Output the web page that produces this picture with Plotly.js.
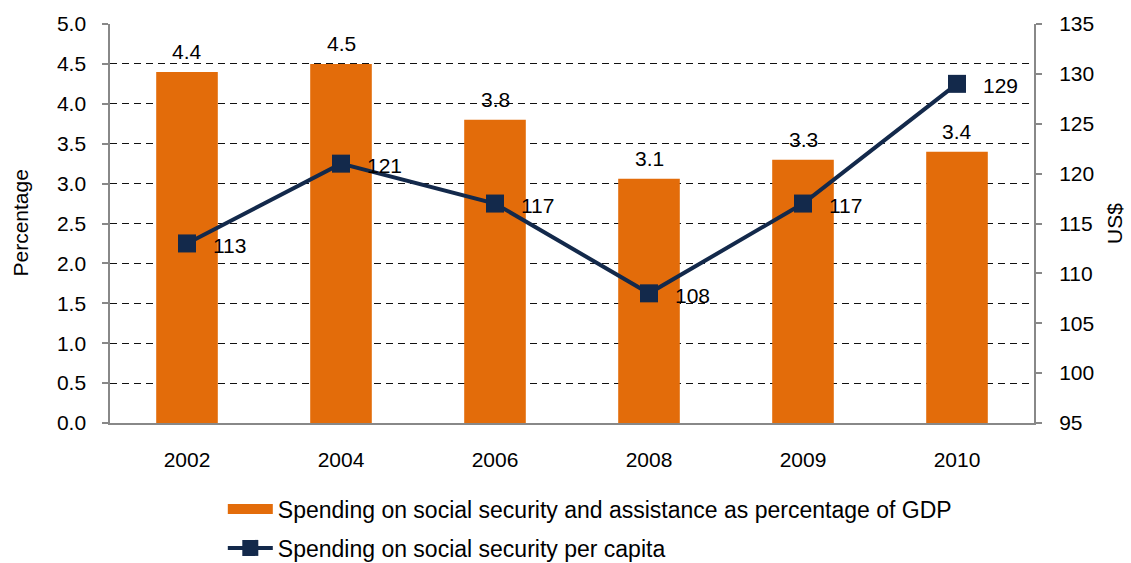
<!DOCTYPE html>
<html><head><meta charset="utf-8">
<script src="https://cdn.plot.ly/plotly-3.0.1.min.js"></script>
<style>html,body{margin:0;padding:0;background:#fff}#chart{width:1131px;height:563px}</style>
</head><body><div id="chart"></div>
<script>
const years = ['2002','2004','2006','2008','2009','2010'];
const pctGDP = [4.4, 4.5, 3.8, 3.06, 3.3, 3.4];
const perCapita = [113, 121, 117, 108, 117, 129];
const barName = 'Spending on social security and assistance as percentage of GDP';
const lineName = 'Spending on social security per capita';
const leftTitle = 'Percentage';
const rightTitle = 'US$';

const font = 'Liberation Sans, Arial, sans-serif';
const orange = '#E36C0A', navy = '#13294B';
const traces = [
  {type:'bar', x:years, y:pctGDP, name:barName, showlegend:false,
   marker:{color:orange}, width:0.4, hoverinfo:'x+y'},
  {type:'scatter', mode:'lines', x:[years[0]], y:[null], name:barName, legendgroup:'a',
   line:{color:orange, width:12}, hoverinfo:'skip'},
  {type:'scatter', mode:'lines+markers', x:years, y:perCapita, yaxis:'y2',
   name:lineName, legendgroup:'b',
   line:{color:navy, width:4}, marker:{symbol:'square', size:18, color:navy}, cliponaxis:false}
];
// category axis: annotation x given as the category's serial index
const annotations = [];
years.forEach((yr,i)=>{
  annotations.push({x:i, y:pctGDP[i], xref:'x', yref:'y', text:pctGDP[i].toFixed(1), showarrow:false,
    yanchor:'bottom', yshift:7, font:{size:21, color:'#000', family:font}});
  annotations.push({x:i, y:perCapita[i], xref:'x', yref:'y2', text:String(perCapita[i]), showarrow:false,
    xanchor:'left', xshift:24, yshift:-2, font:{size:21, color:'#000', family:font}});
});
annotations.push({xref:'paper', yref:'paper', x:-0.0974, y:0.5, text:leftTitle, textangle:-90, showarrow:false,
  xanchor:'center', yanchor:'middle', font:{size:21, color:'#000', family:font}});

const layout = {
  width:1131, height:563,
  margin:{l:110, r:97, t:24, b:140, autoexpand:false},
  paper_bgcolor:'#fff', plot_bgcolor:'#fff',
  font:{family:font, size:21, color:'#000'},
  showlegend:true,
  annotations,
  legend:{xref:'container', yref:'container', x:0.197, y:0.134, xanchor:'left', yanchor:'top', orientation:'v',
          font:{size:23}, tracegroupgap:6, itemwidth:45, bgcolor:'rgba(0,0,0,0)'},
  xaxis:{type:'category', categoryorder:'array', categoryarray:years, showgrid:false, showline:true, linecolor:'#888', linewidth:2, ticks:'',
         tickfont:{size:21}, ticklabelstandoff:17},
  yaxis:{range:[0,5], dtick:0.5, tickformat:'.1f', ticksuffix:'  ', showgrid:true, gridcolor:'#111', griddash:'7px,5px', gridwidth:1,
         showline:true, linecolor:'#888', linewidth:2, ticks:'outside', ticklen:6, tickcolor:'#888', tickwidth:2,
         zeroline:false, tickfont:{size:21}},
  yaxis2:{range:[95,135], dtick:5, overlaying:'y', side:'right', showgrid:false,
         showline:true, linecolor:'#888', linewidth:2, ticks:'outside', ticklen:6, tickcolor:'#888', tickwidth:2,
         zeroline:false, automargin:false, tickfont:{size:21}, ticklabelstandoff:13,
         title:{text:rightTitle, font:{size:21}, standoff:14}}
};
Plotly.newPlot('chart', traces, layout, {displayModeBar:false, staticPlot:true});
</script></body></html>
